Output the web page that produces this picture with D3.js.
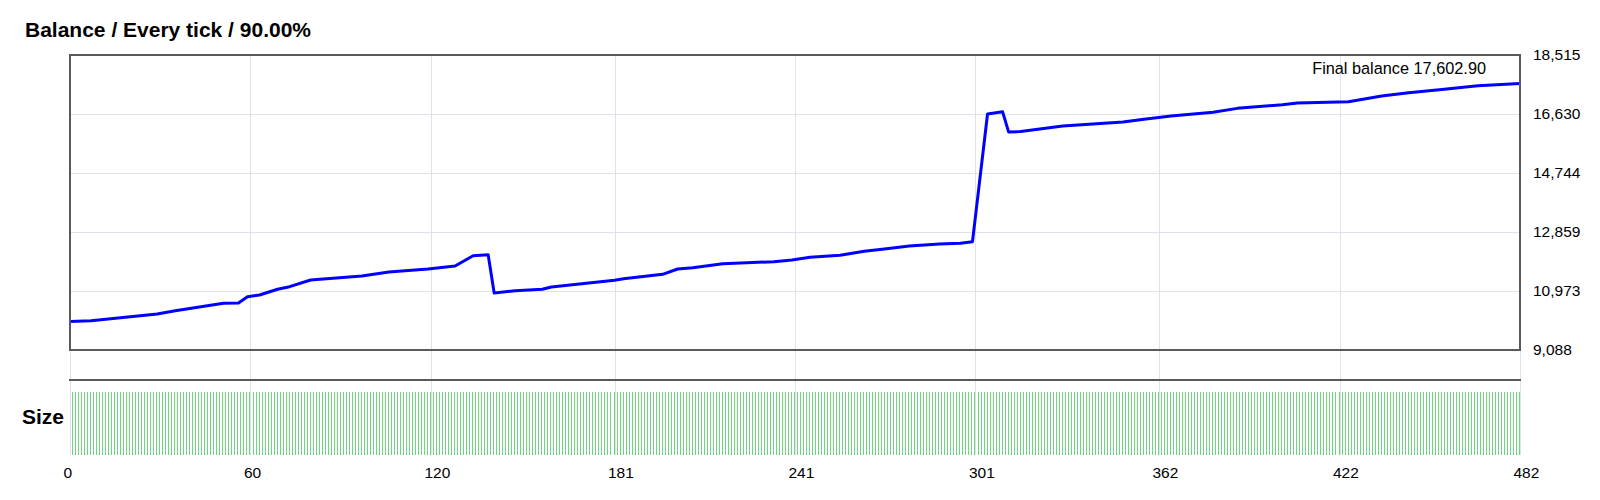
<!DOCTYPE html>
<html>
<head>
<meta charset="utf-8">
<script src="https://cdn.jsdelivr.net/npm/d3@7"></script>
<style>
  html, body { margin: 0; padding: 0; background: #fff; }
  svg { display: block; font-family: "Liberation Sans", Arial, sans-serif; }
</style>
</head>
<body>
<svg id="chart" width="1600" height="500"></svg>
<script>
// ---- data ----
const titleText = "Balance / Every tick / 90.00%";
const finalBalanceText = "Final balance 17,602.90";
const xTickLabels = [0, 60, 120, 181, 241, 301, 362, 422, 482];
const yTickLabels = [9088, 10973, 12859, 14744, 16630, 18515];
const tradeIndex = [0, 7, 29, 35, 51, 56, 59, 63, 69, 73, 80, 97, 106, 119, 128, 134, 139, 141,
  148, 157, 160, 181, 184, 197, 202, 207, 217, 234, 240, 246, 256, 264, 270, 279, 289, 296, 300,
  305, 310, 312, 316, 330, 350, 357, 366, 380, 388, 403, 408, 425, 436, 445, 456, 468, 482];
const balance = [9995, 10024, 10238, 10344, 10580, 10592, 10792, 10845, 11028, 11111, 11325, 11453,
  11581, 11676, 11772, 12101, 12133, 10910, 10983, 11028, 11101, 11315, 11366, 11507, 11676, 11718,
  11846, 11910, 11964, 12050, 12114, 12242, 12306, 12411, 12475, 12497, 12549, 16630, 16704, 16057,
  16067, 16248, 16375, 16460, 16566, 16683, 16810, 16927, 16980, 17023, 17203, 17310, 17416, 17533,
  17602.90];
const tradeCount = 482;
const lotSize = 0.10;   // every trade uses the same size

// ---- layout ----
const L = 70, R = 1520, T = 55, B = 350;
const sepY = 380, sizeTop = 392, sizeBottom = 455;

const svg = d3.select("#chart");

const x = d3.scaleLinear().domain([0, 482]).range([L, R]);
const y = d3.scaleLinear().domain([9088, 18515]).range([B, T]);
const ySize = d3.scaleLinear().domain([0, lotSize]).range([sizeBottom, sizeTop]);

const gridColor = "#dfe2ea";

// vertical grid lines
svg.append("g").selectAll("line").data(xTickLabels).join("line")
  .attr("x1", d => Math.round(x(d)) + 0.5).attr("x2", d => Math.round(x(d)) + 0.5)
  .attr("y1", T).attr("y2", sizeBottom)
  .attr("stroke", gridColor).attr("stroke-width", 1);

// horizontal grid lines
svg.append("g").selectAll("line").data(yTickLabels).join("line")
  .attr("x1", L).attr("x2", R)
  .attr("y1", d => Math.round(y(d)) + 0.5).attr("y2", d => Math.round(y(d)) + 0.5)
  .attr("stroke", gridColor).attr("stroke-width", 1);

// size bars
const sizeData = d3.range(1, tradeCount + 1).map(i => ({ i, s: lotSize }));
svg.append("g").selectAll("line").data(sizeData).join("line")
  .attr("x1", d => Math.round(x(d.i)) - 0.5).attr("x2", d => Math.round(x(d.i)) - 0.5)
  .attr("y1", d => ySize(d.s)).attr("y2", ySize(0))
  .attr("stroke", "#6fd67f").attr("stroke-width", 1)
  .attr("shape-rendering", "crispEdges");

// balance line
const pts = tradeIndex.map((t, k) => [t, balance[k]]);
svg.append("path").datum(pts)
  .attr("fill", "none").attr("stroke", "#0000ff").attr("stroke-width", 3)
  .attr("stroke-linejoin", "round")
  .attr("d", d3.line().x(d => x(d[0])).y(d => y(d[1])));

// plot frame
svg.append("rect").attr("x", L).attr("y", T).attr("width", R - L).attr("height", B - T)
  .attr("fill", "none").attr("stroke", "#5a5a5a").attr("stroke-width", 2);
svg.append("line").attr("x1", L - 1).attr("x2", R + 1).attr("y1", sepY).attr("y2", sepY)
  .attr("stroke", "#5a5a5a").attr("stroke-width", 2);

// y axis labels (right side)
const yAxis = d3.axisRight(y).tickValues(yTickLabels).tickSize(0).tickPadding(0)
  .tickFormat(d3.format(","));
const gy = svg.append("g").attr("transform", `translate(${R + 13},0)`).call(yAxis);
gy.select(".domain").remove();
gy.selectAll("text").attr("font-size", "15.5px").attr("fill", "#000")
  .attr("font-family", "Liberation Sans, Arial, sans-serif");

// x axis labels (bottom), left-aligned just before each grid line
const xAxis = d3.axisBottom(x).tickValues(xTickLabels).tickSize(0).tickPadding(0)
  .tickFormat(d => d);
const gx = svg.append("g").attr("transform", `translate(0,${467})`).call(xAxis);
gx.select(".domain").remove();
gx.selectAll("text").attr("font-size", "15.5px").attr("fill", "#000")
  .attr("text-anchor", "start").attr("x", -7)
  .attr("font-family", "Liberation Sans, Arial, sans-serif");

// titles
svg.append("text").attr("x", 25).attr("y", 37).text(titleText)
  .attr("font-weight", "bold").attr("font-size", "21px").attr("fill", "#000");
svg.append("text").attr("x", 22).attr("y", 424).text("Size")
  .attr("font-weight", "bold").attr("font-size", "21px").attr("fill", "#000");
svg.append("text").attr("x", 1486).attr("y", 74).attr("text-anchor", "end").text(finalBalanceText)
  .attr("font-size", "16.3px").attr("fill", "#000");
</script>
</body>
</html>
